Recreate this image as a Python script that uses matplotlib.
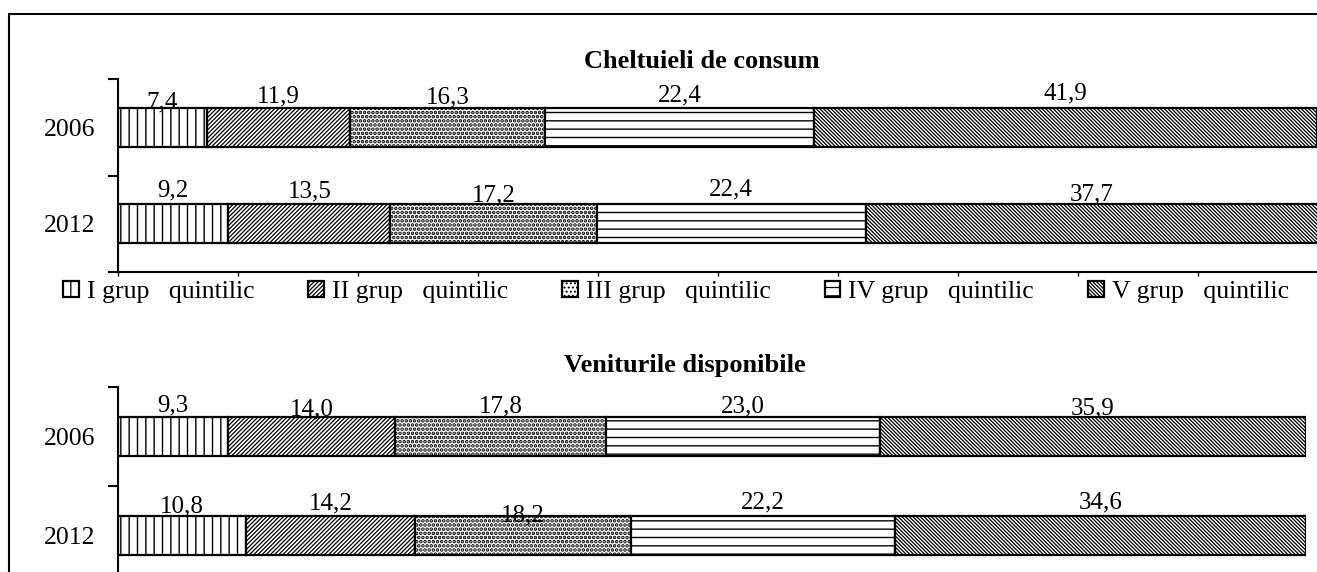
import matplotlib
matplotlib.use('Agg')
import matplotlib.pyplot as plt
from matplotlib.patches import Patch, Rectangle

years = ['2006', '2012']
groups = ['I grup   quintilic', 'II grup   quintilic', 'III grup   quintilic',
          'IV grup   quintilic', 'V grup   quintilic']

chelt_2006 = [7.4, 11.9, 16.3, 22.4, 41.9]
chelt_2012 = [9.2, 13.5, 17.2, 22.4, 37.7]
venit_2006 = [9.3, 14.0, 17.8, 23.0, 35.9]
venit_2012 = [10.8, 14.2, 18.2, 22.2, 34.6]

# label baseline nudge above bar top, pixels
chelt_dy = [[-1, 5, 4, 6, 8], [8, 7, 3, 9, 4]]
venit_dy = [[5, 1, 4, 4, 2], [3, 6, -6, 7, 7]]

hatches = ['||', '/' * 8, '....', '--', '\\' * 9]
hatch_lw = [1.0, 0.9, 1.8, 1.0, 0.9]

plt.rcParams['font.family'] = 'Liberation Serif'
plt.rcParams['hatch.linewidth'] = 0.9

W, H = 1317, 572
fig = plt.figure(figsize=(W / 100, H / 100), dpi=100)


def px(x0, y0, x1, y1):
    return [x0 / W, 1 - y1 / H, (x1 - x0) / W, (y1 - y0) / H]


def set_hlw(patch, lw):
    if hasattr(patch, 'set_hatch_linewidth'):
        patch.set_hatch_linewidth(lw)


def draw(ax, rows, dys):
    for yi, (vals, dy) in enumerate(zip(rows, dys)):
        left = 0
        for v, h, hl, d in zip(vals, hatches, hatch_lw, dy):
            with plt.rc_context({'hatch.linewidth': hl}):
                bars = ax.barh(yi, v, left=left, height=0.4, color='white',
                               edgecolor='black', linewidth=1.6, hatch=h)
            for p in bars:
                set_hlw(p, hl)
            ax.annotate(f'{v:.1f}'.replace('.', ','), (left + v / 2, yi - 0.2),
                        xytext=(0, d), textcoords='offset pixels',
                        ha='center', va='baseline', fontsize=18)
            left += v
    ax.set_xlim(0, 100)
    ax.set_ylim(1.5, -0.5)
    ax.set_yticks([0, 1])
    ax.set_yticklabels(years)
    ax.set_yticks([-0.5, 0.5, 1.5], minor=True)
    ax.tick_params(axis='y', which='major', length=0, pad=16, labelsize=18.5)
    ax.tick_params(axis='y', which='minor', length=7, width=1.5)
    ax.spines['top'].set_visible(False)
    ax.spines['right'].set_visible(False)
    ax.spines['left'].set_linewidth(1.5)
    ax.spines['bottom'].set_linewidth(1.5)


ax1 = fig.add_axes(px(118, 79, 1318, 272))
draw(ax1, [chelt_2006, chelt_2012], chelt_dy)
ax1.set_xticks(range(0, 101, 10))
ax1.tick_params(axis='x', length=3, width=1, labelbottom=False)

ax2 = fig.add_axes(px(118, 387, 1306, 585))
draw(ax2, [venit_2006, venit_2012], venit_dy)
ax2.set_xticks([])
ax2.spines['bottom'].set_visible(False)

fig.text(702 / W, 1 - 68 / H, 'Cheltuieli de consum', ha='center', va='baseline',
         fontsize=19, fontweight='bold')
fig.text(685 / W, 1 - 372 / H, 'Veniturile disponibile', ha='center', va='baseline',
         fontsize=19, fontweight='bold')

handles = []
for h, hl in zip(hatches, hatch_lw):
    with plt.rc_context({'hatch.linewidth': hl}):
        p = Patch(facecolor='white', edgecolor='black', hatch=h, linewidth=1.6)
    set_hlw(p, hl)
    handles.append(p)
fig.legend(handles, groups, loc='center left', bbox_to_anchor=(63 / W, 1 - 292 / H),
           ncol=5, frameon=False, fontsize=18.5, handlelength=0.62, handleheight=0.62,
           handletextpad=0.3, columnspacing=2.1, borderpad=0, borderaxespad=0)

# outer chart border (cut by the image edges)
fig.add_artist(Rectangle((9 / W, -0.1), 2, 1 - 14 / H + 0.1, transform=fig.transFigure,
                         fill=False, edgecolor='black', linewidth=1.5, clip_on=False))

fig.savefig('out.png', dpi=100)
